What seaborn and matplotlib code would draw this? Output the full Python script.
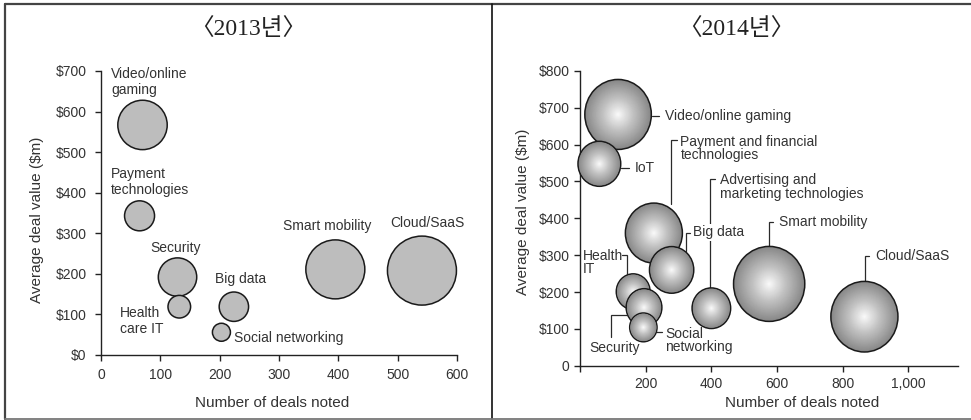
import numpy as np
import pandas as pd
import matplotlib
matplotlib.use("Agg")
import matplotlib.pyplot as plt
from matplotlib.colors import LinearSegmentedColormap
from matplotlib.lines import Line2D
from matplotlib.path import Path
from matplotlib.transforms import Affine2D
import seaborn as sns

# ---- data -----------------------------------------------------------------
sectors_2013 = ["Video/online\ngaming", "Payment\ntechnologies", "Security",
                "Health\ncare IT", "Big data", "Social networking",
                "Smart mobility", "Cloud/SaaS"]
deals_2013 = [70, 65, 129, 132, 224, 203, 395, 541]
avg_value_2013 = [567, 343, 192, 119, 119, 56, 211, 208]
bubble_2013 = [610, 225, 369, 128, 216, 81, 870, 1190]

sectors_2014 = ["Video/online gaming", "IoT", "Payment and financial\ntechnologies",
                "Big data", "Health\nIT", "Security", "Social\nnetworking",
                "Advertising and\nmarketing technologies", "Smart mobility",
                "Cloud/SaaS"]
deals_2014 = [116, 59, 225, 279, 162, 195, 193, 400, 576, 866]
avg_value_2014 = [682, 548, 360, 260, 201, 158, 104, 156, 222, 133]
bubble_2014 = [1225, 506, 900, 543, 317, 353, 207, 412, 1406, 1246]

xticks_2013 = [0, 100, 200, 300, 400, 500, 600]
xlabels_2013 = ["0", "100", "200", "300", "400", "500", "600"]
yticks_2013 = [0, 100, 200, 300, 400, 500, 600, 700]
ylabels_2013 = ["$0", "$100", "$200", "$300", "$400", "$500", "$600", "$700"]

xticks_2014 = [0, 200, 400, 600, 800, 1000]
xlabels_2014 = ["", "200", "400", "600", "800", "1,000"]
yticks_2014 = [0, 100, 200, 300, 400, 500, 600, 700, 800]
ylabels_2014 = ["0", "$100", "$200", "$300", "$400", "$500", "$600", "$700", "$800"]

titles = ["\u30082013년\u3009", "\u30082014년\u3009"]
x_title = "Number of deals noted"
y_title = "Average deal value ($m)"

# ---- styling --------------------------------------------------------------
sns.set_style("ticks")
plt.rcParams["font.family"] = ["Liberation Sans", "Noto Sans CJK KR"]
INK = "#333333"
plt.rcParams["text.color"] = INK
plt.rcParams["axes.labelcolor"] = INK
AREA_PER_UNIT = (2 * 0.72) ** 2   # bubble units -> marker area in pt^2

df13 = pd.DataFrame({"sector": sectors_2013, "deals": deals_2013,
                     "value": avg_value_2013, "bubble": bubble_2013})
df14 = pd.DataFrame({"sector": sectors_2014, "deals": deals_2014,
                     "value": avg_value_2014, "bubble": bubble_2014})
df13 = df13.sort_values("value", ascending=False).reset_index(drop=True)
df14 = df14.sort_values("value", ascending=False).reset_index(drop=True)

fig = plt.figure(figsize=(9.71, 4.20), dpi=100)
ax1 = fig.add_axes([0.1040, 0.1548, 0.3666, 0.6762])
ax2 = fig.add_axes([0.5973, 0.1293, 0.3890, 0.7017])

# ---- 2013: flat grey bubbles ---------------------------------------------
bmax13 = max(bubble_2013)
sns.scatterplot(data=df13, x="deals", y="value", size="bubble",
                sizes=(0, AREA_PER_UNIT * bmax13), size_norm=(0, bmax13),
                color="#bdbdbd", edgecolor="#1a1a1a", linewidth=1.1,
                legend=False, ax=ax1, clip_on=False, zorder=3)

labels13 = {
    "Video/online\ngaming": (17, 673),
    "Payment\ntechnologies": (17, 426),
    "Security": (83, 264),
    "Health\ncare IT": (32, 84),
    "Big data": (192, 187),
    "Social networking": (224, 42),
    "Smart mobility": (307, 319),
    "Cloud/SaaS": (488, 325),
}
for name, (tx, ty) in labels13.items():
    ax1.text(tx, ty, name, ha="left", va="center", fontsize=10,
             linespacing=1.12, color=INK, zorder=4)

ax1.set_xlim(0, 600)
ax1.set_ylim(0, 700)
ax1.set_xticks(xticks_2013, xlabels_2013)
ax1.set_yticks(yticks_2013, ylabels_2013)
ax1.tick_params(axis="both", direction="out", length=4.3, width=1.0,
                color="#222222", labelsize=10, labelcolor=INK)
ax1.tick_params(axis="y", pad=6)
ax1.tick_params(axis="x", pad=5)

# ---- 2014: shaded, slightly tall spheres ----------------------------------
sphere = LinearSegmentedColormap.from_list(
    "sphere", [(0.0, "#888888"), (0.55, "#c4c4c4"), (1.0, "#fbfbfb")])
oval = Path.unit_circle().transformed(Affine2D().scale(0.95, 1.0))

shells = np.concatenate([[1.0], np.linspace(0.955, 0.03, 40)])
rows = []
for _, r in df14.iterrows():
    for i, k in enumerate(shells):
        rows.append({"deals": r.deals, "value": r.value,
                     "area": r.bubble * k ** 2, "shade": 1.0 - k, "rim": i == 0})
layers = pd.DataFrame(rows)
edgecols = ["#1a1a1a" if rim else "none" for rim in layers["rim"]]
edgewidths = [1.1 if rim else 0.0 for rim in layers["rim"]]

bmax14 = max(bubble_2014)
sns.scatterplot(data=layers, x="deals", y="value", size="area",
                sizes=(0, AREA_PER_UNIT * bmax14), size_norm=(0, bmax14),
                hue="shade", hue_norm=(0, 1), palette=sphere, marker=oval,
                edgecolor=edgecols, linewidth=edgewidths,
                legend=False, ax=ax2, clip_on=False, zorder=3)

# callouts: label anchor and leader path in data units
callouts14 = {
    "Video/online gaming": ((259, 678), [(218, 678), (240, 678)]),
    "IoT": ((167, 536), [(124, 536), (149, 536)]),
    "Payment and financial\ntechnologies": ((306, 590), [(276, 439), (276, 614), (294, 614)]),
    "Advertising and\nmarketing technologies": ((426, 485), [(395, 210), (395, 507), (411, 507)]),
    "Big data": ((345, 362), [(323, 310), (323, 361), (335, 361)]),
    "Smart mobility": ((606, 391), [(576, 323), (576, 391), (588, 391)]),
    "Cloud/SaaS": ((900, 298), [(868, 228), (868, 298), (880, 298)]),
    "Health\nIT": ((8, 280), [(127, 300), (144, 300), (144, 246)]),
    "Security": ((27, 47), [(93, 77), (93, 138), (142, 138)]),
    "Social\nnetworking": ((259, 69), [(230, 91), (249, 91)]),
}
for name, ((tx, ty), path) in callouts14.items():
    px, py = zip(*path)
    ax2.plot(px, py, color="#2a2a2a", lw=0.9, solid_joinstyle="miter",
             zorder=1, clip_on=False)
    box = dict(facecolor="white", edgecolor="none", pad=1.0) if name == "Big data" else None
    ax2.text(tx, ty, name, ha="left", va="center", fontsize=10,
             linespacing=0.92, color=INK, zorder=2, bbox=box)

ax2.set_xlim(0, 1150)
ax2.set_ylim(0, 800)
ax2.set_xticks(xticks_2014, xlabels_2014)
ax2.set_yticks(yticks_2014, ylabels_2014)
ax2.tick_params(axis="both", direction="out", length=4.5, width=1.0,
                color="#222222", labelsize=10, labelcolor=INK)
ax2.tick_params(axis="y", pad=3)
ax2.tick_params(axis="x", pad=4)

# ---- shared axis cosmetics ------------------------------------------------
for ax in (ax1, ax2):
    sns.despine(ax=ax)
    for side in ("left", "bottom"):
        ax.spines[side].set_color("#222222")
        ax.spines[side].set_linewidth(1.0)
    ax.set_xlabel(x_title, fontsize=11)
    ax.set_ylabel(y_title, fontsize=11)
    ax.xaxis.label.set_va("center")
    ax.yaxis.label.set_va("center")

ax1.xaxis.set_label_coords(0.480, -0.169)
ax1.yaxis.set_label_coords(-0.181, 0.477)
ax2.xaxis.set_label_coords(0.587, -0.126)
ax2.yaxis.set_label_coords(-0.151, 0.523)

# ---- panel titles and frame -----------------------------------------------
title_font = ["Liberation Serif", "Noto Sans CJK KR"]
fig.text(248.5 / 971, 1 - 30 / 420, titles[0], ha="center", va="center",
         fontsize=17, family=title_font, color="#222222")
fig.text(736 / 971, 1 - 30 / 420, titles[1], ha="center", va="center",
         fontsize=17, family=title_font, color="#222222")

fig.add_artist(Line2D([5 / 971, 1.0], [1 - 4 / 420] * 2, transform=fig.transFigure,
                      color="#444444", lw=1.6))
fig.add_artist(Line2D([5 / 971] * 2, [1 - 4 / 420, 1 - 418.5 / 420],
                      transform=fig.transFigure, color="#444444", lw=1.6))
fig.add_artist(Line2D([492 / 971] * 2, [1 - 4 / 420, 1 - 418.5 / 420],
                      transform=fig.transFigure, color="#111111", lw=1.2))
fig.add_artist(Line2D([5 / 971, 1.0], [1 - 418.5 / 420] * 2, transform=fig.transFigure,
                      color="#777777", lw=1.3))

fig.savefig("out.png", dpi=100, facecolor="white")
